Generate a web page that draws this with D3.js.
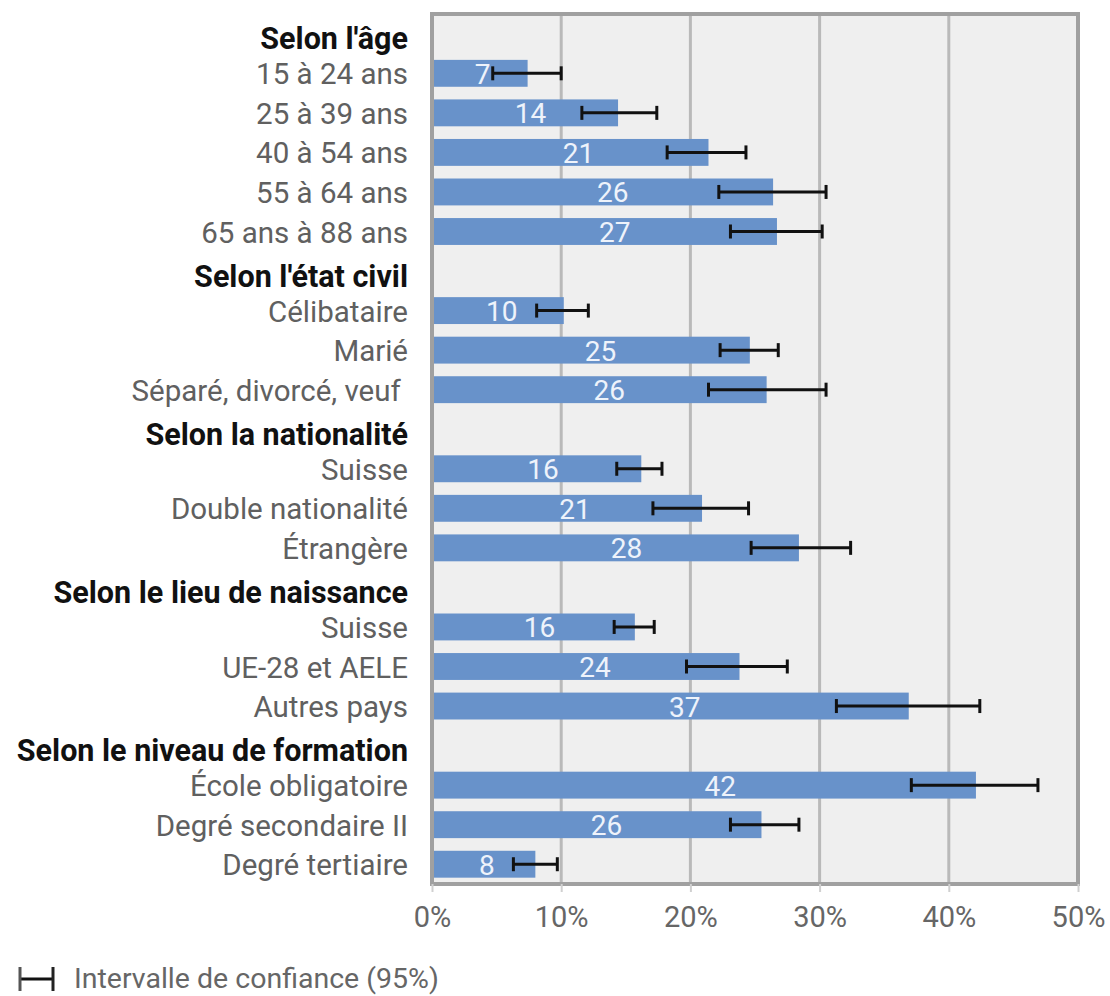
<!DOCTYPE html>
<html>
<head>
<meta charset="utf-8">
<script src="https://cdn.jsdelivr.net/npm/d3@7"></script>
<style>
  html, body { margin: 0; padding: 0; background: #ffffff; }
  svg { display: block; font-family: Roboto, "Noto Sans", sans-serif; }
</style>
</head>
<body>
<svg id="chart" width="1110" height="996"></svg>
<script>
// ---- data ----
const categories = [
  "Selon l'âge", "15 à 24 ans", "25 à 39 ans", "40 à 54 ans", "55 à 64 ans", "65 ans à 88 ans",
  "Selon l'état civil", "Célibataire", "Marié", "Séparé, divorcé, veuf ",
  "Selon la nationalité", "Suisse", "Double nationalité", "Étrangère",
  "Selon le lieu de naissance", "Suisse", "UE-28 et AELE", "Autres pays",
  "Selon le niveau de formation", "École obligatoire", "Degré secondaire II", "Degré tertiaire"
];
const isHeader = [
  true, false, false, false, false, false,
  true, false, false, false,
  true, false, false, false,
  true, false, false, false,
  true, false, false, false
];
const values = [
  null, 7.4, 14.4, 21.4, 26.4, 26.7,
  null, 10.2, 24.6, 25.9,
  null, 16.2, 20.9, 28.4,
  null, 15.7, 23.8, 36.9,
  null, 42.1, 25.5, 8.0
];
const ciLow = [
  null, 4.7, 11.6, 18.2, 22.2, 23.1,
  null, 8.1, 22.3, 21.4,
  null, 14.3, 17.1, 24.7,
  null, 14.1, 19.7, 31.3,
  null, 37.1, 23.1, 6.3
];
const ciHigh = [
  null, 10.0, 17.4, 24.3, 30.5, 30.2,
  null, 12.1, 26.8, 30.5,
  null, 17.8, 24.5, 32.4,
  null, 17.2, 27.5, 42.4,
  null, 46.9, 28.4, 9.7
];
const xTicks = [0, 10, 20, 30, 40, 50];
const legendLabel = "Intervalle de confiance (95%)";

// ---- layout ----
const svg = d3.select("#chart");
const pLeft = 432, pRight = 1078, pTop = 14, pBottom = 884;

const x = d3.scaleLinear().domain([0, 50]).range([pLeft, pRight]);
const y = d3.scaleBand().domain(d3.range(categories.length)).range([pTop, pBottom]).paddingInner(0.32).paddingOuter(0.16);

const rows = categories.map((c, i) => ({
  i, label: c, header: isHeader[i], v: values[i], lo: ciLow[i], hi: ciHigh[i]
}));
const dataRows = rows.filter(d => !d.header);

// plot background
svg.append("rect")
  .attr("x", pLeft).attr("y", pTop)
  .attr("width", pRight - pLeft).attr("height", pBottom - pTop)
  .attr("fill", "#efefef");

// gridlines
svg.append("g").selectAll("line")
  .data(xTicks.filter(t => t > 0 && t < 50))
  .join("line")
  .attr("x1", d => x(d)).attr("x2", d => x(d))
  .attr("y1", pTop).attr("y2", pBottom)
  .attr("stroke", "#b9b9b9").attr("stroke-width", 3);

// bars
svg.append("g").selectAll("rect")
  .data(dataRows)
  .join("rect")
  .attr("x", x(0))
  .attr("y", d => y(d.i))
  .attr("width", d => x(d.v) - x(0))
  .attr("height", y.bandwidth())
  .attr("fill", "#6892ca");

// value labels
svg.append("g").selectAll("text")
  .data(dataRows)
  .join("text")
  .attr("x", d => x(d.v * 0.53))
  .attr("y", d => y(d.i) + y.bandwidth() / 2 + 1)
  .attr("text-anchor", "middle")
  .attr("dominant-baseline", "central")
  .attr("fill", "#eef3fb")
  .attr("font-size", 28)
  .text(d => Math.round(d.v));

// error bars
const eb = svg.append("g").attr("stroke", "#111").attr("stroke-width", 3);
eb.selectAll("line.h")
  .data(dataRows)
  .join("line").attr("class", "h")
  .attr("x1", d => x(d.lo)).attr("x2", d => x(d.hi))
  .attr("y1", d => y(d.i) + y.bandwidth() / 2)
  .attr("y2", d => y(d.i) + y.bandwidth() / 2);
eb.selectAll("line.l")
  .data(dataRows)
  .join("line").attr("class", "l")
  .attr("x1", d => x(d.lo)).attr("x2", d => x(d.lo))
  .attr("y1", d => y(d.i) + y.bandwidth() / 2 - 7)
  .attr("y2", d => y(d.i) + y.bandwidth() / 2 + 7);
eb.selectAll("line.r")
  .data(dataRows)
  .join("line").attr("class", "r")
  .attr("x1", d => x(d.hi)).attr("x2", d => x(d.hi))
  .attr("y1", d => y(d.i) + y.bandwidth() / 2 - 7)
  .attr("y2", d => y(d.i) + y.bandwidth() / 2 + 7);

// frame
svg.append("rect")
  .attr("x", pLeft).attr("y", pTop)
  .attr("width", pRight - pLeft).attr("height", pBottom - pTop)
  .attr("fill", "none")
  .attr("stroke", "#a0a0a0").attr("stroke-width", 4);

// x axis
const xAxis = d3.axisBottom(x)
  .tickValues(xTicks)
  .tickFormat(d => d + "%")
  .tickSize(8)
  .tickPadding(14);
const gx = svg.append("g").attr("transform", `translate(0,${pBottom})`).call(xAxis);
gx.select(".domain").remove();
gx.selectAll(".tick line").attr("stroke", "#d0d0d0").attr("stroke-width", 2);
gx.selectAll(".tick text")
  .attr("fill", "#666")
  .attr("font-size", 29)
  .attr("font-family", "Roboto, sans-serif");

// category labels
svg.append("g").selectAll("text")
  .data(rows)
  .join("text")
  .attr("x", 408)
  .attr("y", d => y(d.i) + y.bandwidth() / 2 + (d.header ? 5 : 1))
  .attr("text-anchor", "end")
  .attr("dominant-baseline", "central")
  .attr("font-size", d => d.header ? 30.5 : 29.5)
  .attr("font-weight", d => d.header ? "bold" : "normal")
  .attr("fill", d => d.header ? "#111" : "#606060")
  .style("white-space", "pre")
  .text(d => d.label);

// legend
const lg = svg.append("g").attr("stroke-width", 3);
lg.append("line").attr("x1", 20).attr("x2", 53).attr("y1", 979).attr("y2", 979).attr("stroke", "#111");
lg.append("line").attr("x1", 20).attr("x2", 20).attr("y1", 967).attr("y2", 991).attr("stroke", "#555");
lg.append("line").attr("x1", 53).attr("x2", 53).attr("y1", 967).attr("y2", 991).attr("stroke", "#222");
svg.append("text")
  .attr("x", 74).attr("y", 978)
  .attr("dominant-baseline", "central")
  .attr("font-size", 28.5)
  .attr("fill", "#666")
  .text(legendLabel);
</script>
</body>
</html>
